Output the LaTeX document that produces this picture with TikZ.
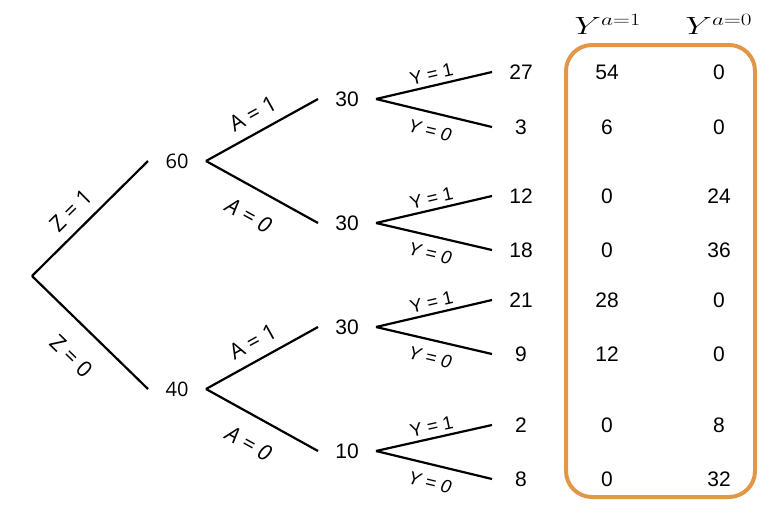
\documentclass[tikz,border=0pt]{standalone}
\usepackage{fontspec}
\setmainfont{Liberation Sans}
\newfontfamily\opensans{Open Sans}
\usepackage{tikz}
\definecolor{boxorange}{RGB}{226,150,72}
\tikzset{treecount/.style={
    inner sep=0pt,
    outer sep=0pt,
    minimum width=58pt,
    font=\fontsize{21}{21}\selectfont}}
\tikzset{firstcount/.style={
    treecount,
    font=\opensans\fontsize{20}{20}\selectfont}}
\tikzset{branch/.style={
    draw=black,
    line width=2.2pt}}
\tikzset{zalab/.style={
    sloped,
    inner sep=0pt,
    font=\opensans\fontsize{22}{22}\selectfont}}
\tikzset{ylab/.style={
    sloped,
    inner sep=0pt,
    font=\fontsize{18.5}{18.5}\selectfont}}
\tikzset{cell/.style={
    font=\fontsize{21}{21}\selectfont}}
\tikzset{header/.style={
    xscale=1.35,
    font=\fontsize{25}{25}\selectfont}}

\begin{document}
\begin{tikzpicture}[x=1pt,y=-1pt]
\useasboundingbox (0,0) rectangle (776,528);
	\coordinate (R) at (32,276);
\coordinate (Z1) at (177,161);
\coordinate (Z0) at (177,389);
\coordinate (A11) at (347,99);
\coordinate (A10) at (347,223);
\coordinate (A01) at (347,327);
\coordinate (A00) at (347,451);

\node[firstcount] (z1) at (Z1) {60};
\node[firstcount] (z0) at (Z0) {40};

\node[treecount] (a11) at (A11) {30};
\node[treecount] (a10) at (A10) {30};
\node[treecount] (a01) at (A01) {30};
\node[treecount] (a00) at (A00) {10};

\node[treecount] (y111) at (521,72) {27};
\node[treecount] (y110) at (521,127) {3};
\node[treecount] (y101) at (521,196) {12};
\node[treecount] (y100) at (521,250) {18};
\node[treecount] (y011) at (521,300) {21};
\node[treecount] (y010) at (521,354) {9};
\node[treecount] (y001) at (521,425) {2};
\node[treecount] (y000) at (521,479) {8};

\path[branch] (R) -- node[zalab,above=10pt,pos=0.45] {Z = 1} (z1.west);
\path[branch] (R) -- node[zalab,below=21pt,pos=0.52] {Z = 0} (z0.west);

\path[branch] (z1.east) -- node[zalab,above=10pt] {A = 1} (a11.west);
\path[branch] (z1.east) -- node[zalab,below=18pt] {\itshape A = 0} (a10.west);
\path[branch] (z0.east) -- node[zalab,above=10pt] {A = 1} (a01.west);
\path[branch] (z0.east) -- node[zalab,below=18pt] {\itshape A = 0} (a00.west);

\path[branch] (a11.east) -- node[ylab,above=4pt] {Y = 1} (y111.west);
\path[branch] (a11.east) -- node[ylab,below=10pt] {\itshape Y = 0} (y110.west);
\path[branch] (a10.east) -- node[ylab,above=4pt] {Y = 1} (y101.west);
\path[branch] (a10.east) -- node[ylab,below=10pt] {\itshape Y = 0} (y100.west);
\path[branch] (a01.east) -- node[ylab,above=4pt] {Y = 1} (y011.west);
\path[branch] (a01.east) -- node[ylab,below=10pt] {\itshape Y = 0} (y010.west);
\path[branch] (a00.east) -- node[ylab,above=4pt] {Y = 1} (y001.west);
\path[branch] (a00.east) -- node[ylab,below=10pt] {\itshape Y = 0} (y000.west);

% potential outcomes
\node[header] (h1) at (608,24) {$Y^{a=1}$};
\node[header] (h0) at (719,24) {$Y^{a=0}$};
\draw[boxorange, line width=4pt, rounded corners=26pt] (566,45) rectangle (755,497);

\node[cell] (c11) at (607,72) {54};
\node[cell] (c12) at (607,127) {6};
\node[cell] (c13) at (607,196) {0};
\node[cell] (c14) at (607,250) {0};
\node[cell] (c15) at (607,300) {28};
\node[cell] (c16) at (607,354) {12};
\node[cell] (c17) at (607,425) {0};
\node[cell] (c18) at (607,479) {0};

\node[cell] (c01) at (719,72) {0};
\node[cell] (c02) at (719,127) {0};
\node[cell] (c03) at (719,196) {24};
\node[cell] (c04) at (719,250) {36};
\node[cell] (c05) at (719,300) {0};
\node[cell] (c06) at (719,354) {0};
\node[cell] (c07) at (719,425) {8};
\node[cell] (c08) at (719,479) {32};
  
\end{tikzpicture}
\end{document}
